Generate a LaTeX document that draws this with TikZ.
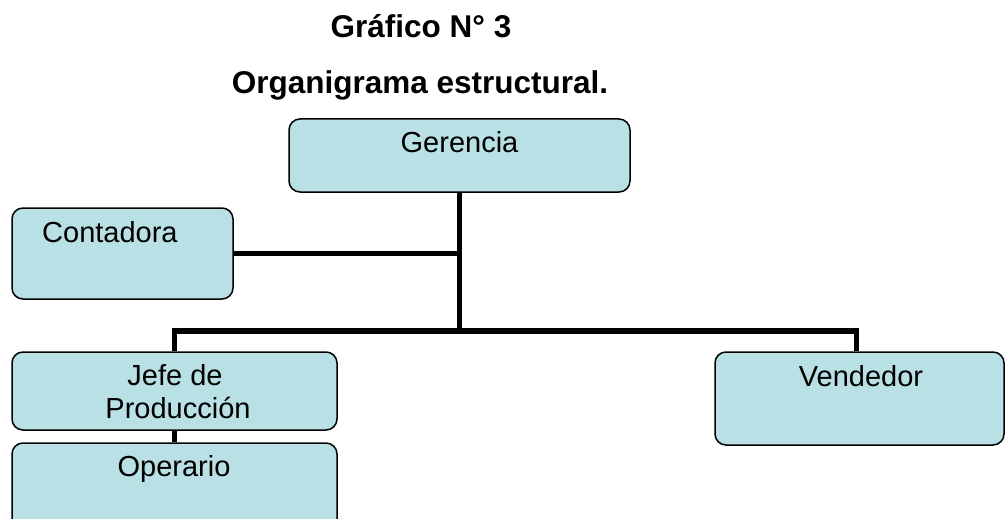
\documentclass[tikz,border=0pt]{standalone}
\usepackage{fontspec}
\setmainfont{Liberation Sans}
\begin{document}
\begin{tikzpicture}[x=1pt,y=-1pt,
  box/.style={draw=black,line width=1.5pt,fill=boxblue,rounded corners=11pt,inner sep=0pt},
  conn/.style={draw=black,line width=5.5pt,line join=miter},
  lbl/.style={anchor=base,inner sep=0pt,font=\fontsize{29}{33}\selectfont},
  ttl/.style={anchor=base,inner sep=0pt,font=\fontsize{31.5}{36}\selectfont\bfseries}]
\definecolor{boxblue}{RGB}{185,224,228}
\useasboundingbox (0,0) rectangle (1005,519);
\clip (0,0) rectangle (1005,519);
% titles
\node[ttl] (t1) at (421,38) {Gráfico N° 3};
\node[ttl] (t2) at (420,93) {Organigrama estructural.};
% boxes
\node[box,minimum width=341pt,minimum height=73pt] (ger) at (459.5,155.5) {};
\node[box,minimum width=221pt,minimum height=91pt] (cont) at (122.5,253.5) {};
\node[box,minimum width=325pt,minimum height=78pt] (jefe) at (174.5,391) {};
\node[box,minimum width=325pt,minimum height=90pt] (oper) at (174.5,488) {};
\node[box,minimum width=289pt,minimum height=93pt] (vend) at (859.5,398.5) {};
% connectors
\coordinate (hub) at (459.5,331);
\draw[conn] (ger.south) -- (hub);
\draw[conn] (cont.east) -- (cont.east -| hub);
\draw[conn] (jefe.north) |- (hub) -| ([xshift=-3pt]vend.north);
\draw[conn] (jefe.south) -- (oper.north);
% labels
\node[lbl] (lger) at (459.5,152) {Gerencia};
\node[lbl,anchor=base west] (lcont) at (42,242) {Contadora};
\node[lbl] (ljefe1) at (175,385) {Jefe de};
\node[lbl] (ljefe2) at (178,418) {Producción};
\node[lbl] (loper) at (174,476) {Operario};
\node[lbl] (lvend) at (861,386) {Vendedor};
\end{tikzpicture}
\end{document}
